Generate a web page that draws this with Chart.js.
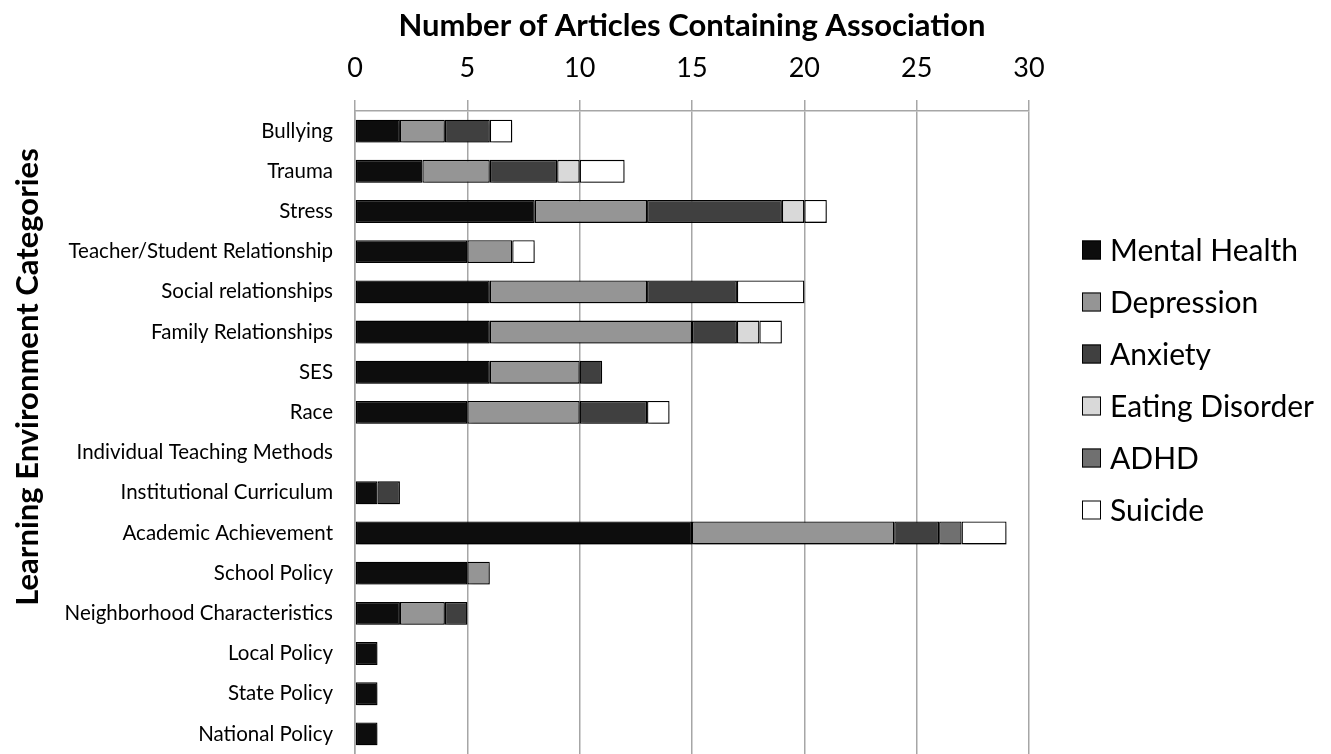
<!DOCTYPE html>
<html>
<head>
<meta charset="utf-8">
<script src="https://cdn.jsdelivr.net/npm/chart.js@4.4.1/dist/chart.umd.min.js"></script>
<style>
  html, body { margin: 0; padding: 0; background: #ffffff; }
  #wrap { width: 1331px; height: 754px; }
</style>
</head>
<body>
<div id="wrap"><canvas id="chart" width="1331" height="754"></canvas></div>
<script>
// Learning environment categories (top to bottom)
const categories = [
  'Bullying', 'Trauma', 'Stress', 'Teacher/Student Relationship',
  'Social relationships', 'Family Relationships', 'SES', 'Race',
  'Individual Teaching Methods', 'Institutional Curriculum',
  'Academic Achievement', 'School Policy', 'Neighborhood Characteristics',
  'Local Policy', 'State Policy', 'National Policy'
];

// Number of articles per outcome, one value per category
const mentalHealth   = [2, 3, 8, 5, 6, 6, 6, 5, 0, 1, 15, 5, 2, 1, 1, 1];
const depression     = [2, 3, 5, 2, 7, 9, 4, 5, 0, 0,  9, 1, 2, 0, 0, 0];
const anxiety        = [2, 3, 6, 0, 4, 2, 1, 3, 0, 1,  2, 0, 1, 0, 0, 0];
const eatingDisorder = [0, 1, 1, 0, 0, 1, 0, 0, 0, 0,  0, 0, 0, 0, 0, 0];
const adhd           = [0, 0, 0, 0, 0, 0, 0, 0, 0, 0,  1, 0, 0, 0, 0, 0];
const suicide        = [1, 2, 1, 1, 3, 1, 0, 1, 0, 0,  2, 0, 0, 0, 0, 0];

// Axis ticks and titles
const xTicks = [0, 5, 10, 15, 20, 25, 30];
const xTitle = 'Number of Articles Containing Association';
const yTitle = 'Learning Environment Categories';

const seriesNames = ['Mental Health', 'Depression', 'Anxiety', 'Eating Disorder', 'ADHD', 'Suicide'];
const seriesValues = [mentalHealth, depression, anxiety, eatingDisorder, adhd, suicide];
const seriesColors = ['#0d0d0d', '#959595', '#404040', '#d9d9d9', '#707070', '#ffffff'];

const FONT = 'Lato';
const GRID = '#a6a6a6';

// soft drop shadow under the bar segments
const barShadow = {
  id: 'barShadow',
  beforeDatasetsDraw(chart) {
    const c = chart.ctx;
    c.save();
    c.shadowColor = 'rgba(0,0,0,0.35)';
    c.shadowBlur = 4;
    c.shadowOffsetX = 2;
    c.shadowOffsetY = 3;
  },
  afterDatasetsDraw(chart) {
    chart.ctx.restore();
  }
};

// vertical category-axis title, centred on the whole canvas height
const sideTitle = {
  id: 'sideTitle',
  afterDraw(chart) {
    const c = chart.ctx;
    c.save();
    c.translate(28, chart.height / 2);
    c.rotate(-Math.PI / 2);
    c.font = 'bold 31px ' + FONT;
    c.fillStyle = '#000000';
    c.textAlign = 'center';
    c.textBaseline = 'middle';
    c.fillText(yTitle, 0, 0);
    c.restore();
  }
};

// legend column to the right of the plot
const sideLegend = {
  id: 'sideLegend',
  afterDraw(chart) {
    const c = chart.ctx;
    const area = chart.chartArea;
    const x0 = area.right + 53;
    const y0 = 250;
    const step = 52;
    const box = 19;
    c.save();
    c.font = '30px ' + FONT;
    c.textBaseline = 'middle';
    c.textAlign = 'left';
    chart.data.datasets.forEach((ds, i) => {
      const y = y0 + i * step;
      c.fillStyle = ds.backgroundColor;
      c.fillRect(x0, y - box / 2, box, box);
      c.strokeStyle = '#000000';
      c.lineWidth = 1;
      c.strokeRect(x0 + 0.5, y - box / 2 + 0.5, box - 1, box - 1);
      c.fillStyle = '#000000';
      c.fillText(ds.label, x0 + box + 9, y + 1);
    });
    c.restore();
  }
};

const datasets = seriesNames.map((name, i) => ({
  label: name,
  data: seriesValues[i].map(v => (v === 0 ? null : v)),
  backgroundColor: seriesColors[i],
  borderColor: '#000000',
  borderWidth: 1.3,
  borderSkipped: false,
  barPercentage: 0.57,
  categoryPercentage: 1.0
}));

new Chart(document.getElementById('chart'), {
  type: 'bar',
  data: { labels: categories, datasets },
  plugins: [barShadow, sideTitle, sideLegend],
  options: {
    indexAxis: 'y',
    responsive: false,
    animation: false,
    devicePixelRatio: 1,
    layout: { padding: { top: 0, right: 302, bottom: -5, left: 0 } },
    plugins: {
      legend: { display: false },
      tooltip: { enabled: false }
    },
    scales: {
      x: {
        position: 'top',
        stacked: true,
        min: xTicks[0],
        max: xTicks[xTicks.length - 1],
        afterBuildTicks(scale) {
          scale.ticks = xTicks.map(v => ({ value: v }));
        },
        // let the plot run to the lower edge of the canvas
        afterFit(scale) { scale.paddingBottom = -5; },
        grid: {
          color: GRID,
          lineWidth: 1.5,
          drawTicks: true,
          tickLength: 11,
          tickColor: GRID
        },
        border: { display: true, color: GRID, width: 1.5 },
        ticks: {
          color: '#000000',
          font: { family: FONT, size: 27 },
          padding: 15.8,
          maxRotation: 0
        },
        title: {
          display: true,
          text: xTitle,
          color: '#000000',
          font: { family: FONT, size: 31, weight: 'bold', lineHeight: 0.6 },
          padding: { top: 16.7, bottom: 0.7 }
        }
      },
      y: {
        stacked: true,
        afterFit(scale) {
          scale.width = 355;
          scale.paddingBottom = -5;
        },
        grid: { display: false, drawTicks: false },
        border: { display: true, color: GRID, width: 1.5 },
        ticks: {
          color: '#000000',
          font: { family: FONT, size: 20.5 },
          padding: 22,
          autoSkip: false
        },
        title: { display: false }
      }
    }
  }
});
</script>
</body>
</html>
